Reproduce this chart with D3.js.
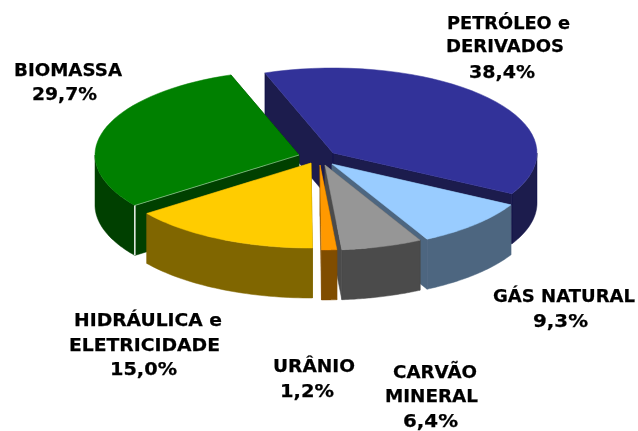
<!DOCTYPE html>
<html><head><meta charset="utf-8">
<script src="https://cdn.jsdelivr.net/npm/d3@7"></script>
<style>html,body{margin:0;background:#fff}svg{display:block}text{font-family:"DejaVu Sans";font-weight:bold;font-size:18.5px;fill:#000;stroke:#000;stroke-width:.25}</style>
</head><body><svg id="c" width="638" height="431"></svg>
<script>
const categories = ["PETRÓLEO e DERIVADOS","GÁS NATURAL","CARVÃO MINERAL","URÂNIO","HIDRÁULICA e ELETRICIDADE","BIOMASSA"];
const values = [38.4,9.3,6.4,1.2,15.0,29.7];
const valueLabels = ["38,4%","9,3%","6,4%","1,2%","15,0%","29,7%"];
const topColors = ["#333399","#99ccff","#969696","#ff9900","#ffcc00","#008000"];
const sideColors = ["#1a1a4d","#4d6680","#4b4b4b","#804d00","#806600","#004000"];

// layout
const RX=204, RY=85, DEPTH=50;
const apexes=[[333,153],[332,164],[325,165],[320,165],[311,163],[299,155]];
const labelLayout=[
 [["PETRÓLEO e",447,29,123],["DERIVADOS",446,52,118],[valueLabels[0],469,78,66]],
 [["GÁS NATURAL",493,302,142],[valueLabels[1],533,327,55]],
 [["CARVÃO",393,378,84],["MINERAL",385,402,93],[valueLabels[2],403,427,55]],
 [["URÂNIO",273,372,82],[valueLabels[3],280,397,54]],
 [["HIDRÁULICA e",74,326,148],["ELETRICIDADE",69,351,151],[valueLabels[4],110,375,67]],
 [["BIOMASSA",14,76,108],[valueLabels[5],32,100,65]]
];
const svg=d3.select("#c");
const defs=svg.append("defs");
defs.append("filter").attr("id","soft").append("feGaussianBlur").attr("stdDeviation",0.5);
const root=svg.append("g").attr("filter","url(#soft)");
root.append("rect").attr("width",638).attr("height",431).attr("fill","#fff");
const g=root.append("g");
const pie=d3.pie().sort(null).startAngle(-19.5*Math.PI/180).endAngle((360-19.5)*Math.PI/180);
const arcs=pie(values);
const line=d3.line();
const sx=d3.scaleLinear().domain([-1,1]).range([-RX,RX]);
const sy=d3.scaleLinear().domain([-1,1]).range([-RY,RY]);
const rimPt=(i,a,dz=0)=>[apexes[i][0]+sx(Math.sin(a)),apexes[i][1]-sy(Math.cos(a))+dz];
const angles=(a0,a1)=>d3.range(0,41).map(k=>a0+(a1-a0)*k/40);
const order=[0,5,1,4,2,3];
order.forEach(i=>{
 const a=arcs[i], A=apexes[i], s=sideColors[i], n=g.append("g");
 const apexB=[A[0],A[1]+DEPTH];
 [a.startAngle,a.endAngle].forEach(t=>{
  n.append("path").attr("fill",s).attr("stroke",s).attr("stroke-width",.5)
   .attr("d",line([A,rimPt(i,t),rimPt(i,t,DEPTH),apexB])+"Z");
 });
 const r0=Math.max(a.startAngle,Math.PI/2), r1=Math.min(a.endAngle,3*Math.PI/2);
 if(r1>r0){
  const top=angles(r0,r1).map(t=>rimPt(i,t));
  const bot=angles(r1,r0).map(t=>rimPt(i,t,DEPTH));
  n.append("path").attr("fill",s).attr("stroke",s).attr("stroke-width",.5).attr("d",line(top.concat(bot))+"Z");
 }
 const topPts=[A].concat(angles(a.startAngle,a.endAngle).map(t=>rimPt(i,t)));
 n.append("path").attr("fill",topColors[i]).attr("stroke",topColors[i]).attr("stroke-width",.5).attr("d",line(topPts)+"Z");
 if(i===5){ // thin pale edge on the biomass cut
  const p=rimPt(i,a.startAngle), q=rimPt(i,a.startAngle,DEPTH);
  n.append("path").attr("fill","none").attr("stroke","#fff").attr("stroke-width",.6).attr("stroke-opacity",.7).attr("d",line([A,p]));
  n.append("path").attr("fill","none").attr("stroke","#fff").attr("stroke-width",1.4).attr("d",line([p,q]));
 }
});
labelLayout.forEach(rows=>{
 const t=root.append("text");
 rows.forEach(r=>t.append("tspan").attr("x",r[1]).attr("y",r[2]).attr("textLength",r[3]).attr("lengthAdjust","spacingAndGlyphs").text(r[0]));
});
</script></body></html>
